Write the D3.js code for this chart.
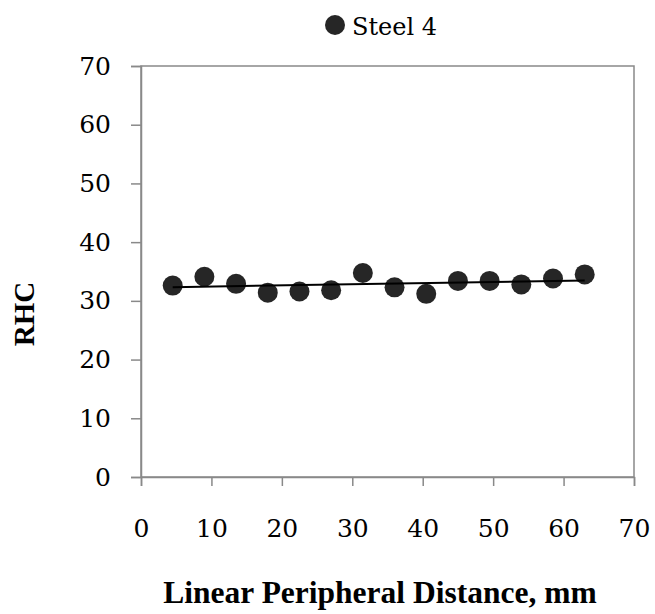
<!DOCTYPE html>
<html>
<head>
<meta charset="utf-8">
<script src="https://cdn.jsdelivr.net/npm/d3@7"></script>
<style>
  body { margin: 0; background: #fff; }
  svg { display: block; }
</style>
</head>
<body>
<svg id="chart"></svg>
<script>
// data
const seriesName = "Steel 4";
const distance = [4.5, 9, 13.5, 18, 22.5, 27, 31.5, 36, 40.5, 45, 49.5, 54, 58.5, 63];
const rhc = [32.6, 34.1, 32.9, 31.4, 31.6, 31.8, 34.75, 32.3, 31.2, 33.4, 33.4, 32.8, 33.8, 34.5];
const xTicks = [0, 10, 20, 30, 40, 50, 60, 70];
const yTicks = [0, 10, 20, 30, 40, 50, 60, 70];
const xLabel = "Linear Peripheral Distance, mm";
const yLabel = "RHC";

const width = 655, height = 614;
const margin = {top: 66, right: 21, bottom: 137, left: 141};
// regular Liberation Serif is not usable here, DejaVu Serif keeps the serif look
const serif = '"DejaVu Serif", serif';
const serifBold = '"Liberation Serif", "Times New Roman", serif';
const axisColor = "#898989";
const dotColor = "#262626";

const svg = d3.select("#chart")
    .attr("width", width)
    .attr("height", height);

const x = d3.scaleLinear().domain([0, 70]).range([margin.left, width - margin.right]);
const y = d3.scaleLinear().domain([0, 70]).range([height - margin.bottom, margin.top]);

// plot frame (top + right)
svg.append("rect")
    .attr("x", x(0)).attr("y", y(70))
    .attr("width", x(70) - x(0)).attr("height", y(0) - y(70))
    .attr("fill", "none")
    .attr("stroke", axisColor)
    .attr("stroke-width", 1.5);

// axes
const xAxis = svg.append("g")
    .attr("transform", `translate(0,${y(0)})`)
    .call(d3.axisBottom(x).tickValues(xTicks).tickSize(9).tickPadding(33).tickFormat(d3.format("d")));
const yAxis = svg.append("g")
    .attr("transform", `translate(${x(0)},0)`)
    .call(d3.axisLeft(y).tickValues(yTicks).tickSize(10).tickPadding(20).tickFormat(d3.format("d")));

[xAxis, yAxis].forEach(g => {
    g.attr("font-family", serif);
    g.select(".domain").attr("stroke", axisColor).attr("stroke-width", 1.5);
    g.selectAll(".tick line").attr("stroke", axisColor).attr("stroke-width", 1.5);
    g.selectAll(".tick text")
        .attr("fill", "#000")
        .attr("font-family", serif)
        .attr("font-size", 25);
});

// linear trendline (least squares)
const mx = d3.mean(distance), my = d3.mean(rhc);
const slope = d3.sum(distance, (d, i) => (d - mx) * (rhc[i] - my)) / d3.sum(distance, d => (d - mx) * (d - mx));
const intercept = my - slope * mx;
const xExt = d3.extent(distance);

// points
svg.append("g")
    .selectAll("circle")
    .data(distance.map((d, i) => ({x: d, y: rhc[i]})))
    .join("circle")
    .attr("cx", d => x(d.x))
    .attr("cy", d => y(d.y))
    .attr("r", 10)
    .attr("fill", dotColor);

svg.append("line")
    .attr("x1", x(xExt[0])).attr("y1", y(intercept + slope * xExt[0]))
    .attr("x2", x(xExt[1])).attr("y2", y(intercept + slope * xExt[1]))
    .attr("stroke", "#000")
    .attr("stroke-width", 2);

// legend
const legend = svg.append("g").attr("transform", "translate(335,25)");
legend.append("circle").attr("r", 10).attr("fill", dotColor);
legend.append("text")
    .attr("x", 17).attr("y", 10)
    .attr("font-family", serif)
    .attr("font-size", 24)
    .text(seriesName);

// axis titles
svg.append("text")
    .attr("x", 380).attr("y", 603)
    .attr("text-anchor", "middle")
    .attr("font-family", serifBold)
    .attr("font-size", 31.5)
    .attr("font-weight", "bold")
    .text(xLabel);

svg.append("text")
    .attr("transform", "translate(34,314) rotate(-90)")
    .attr("text-anchor", "middle")
    .attr("font-family", serifBold)
    .attr("font-size", 29)
    .attr("font-weight", "bold")
    .text(yLabel);
</script>
</body>
</html>
